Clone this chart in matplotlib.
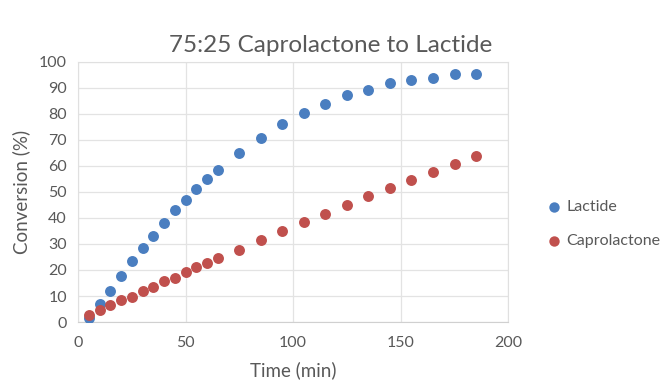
import matplotlib
matplotlib.use("Agg")
import matplotlib.pyplot as plt

plt.rcParams['font.family'] = ['Lato', 'DejaVu Sans']

time_min = [5, 10, 15, 20, 25, 30, 35, 40, 45, 50, 55, 60, 65, 75, 85, 95,
            105, 115, 125, 135, 145, 155, 165, 175, 185]
lactide = [1.5, 7.0, 12.0, 17.8, 23.5, 28.5, 33.2, 38.2, 43.2, 47.0, 51.0, 55.0,
           58.5, 64.8, 70.7, 76.0, 80.5, 83.7, 87.2, 89.0, 92.0, 93.0, 93.7, 95.5, 95.2]
caprolactone = [2.8, 4.7, 6.4, 8.3, 9.6, 12.0, 13.6, 15.6, 17.1, 19.4, 21.0, 22.8,
                24.6, 27.8, 31.4, 34.8, 38.4, 41.7, 45.0, 48.3, 51.5, 54.6, 57.8, 60.8, 64.0]

title = "75:25 Caprolactone to Lactide"
xlabel = "Time (min)"
ylabel = "Conversion (%)"
series_names = ["Lactide", "Caprolactone"]
colors = ["#4A7EC0", "#C0504D"]
text_gray = "#595959"

fig = plt.figure(figsize=(6.61, 3.82), dpi=100)
ax = fig.add_axes([0.118, 0.157, 0.651, 0.681])

ax.scatter(time_min, lactide, s=62, color=colors[0], label=series_names[0], zorder=3, linewidths=0)
ax.scatter(time_min, caprolactone, s=62, color=colors[1], label=series_names[1], zorder=3, linewidths=0)

ax.set_xlim(0, 200)
ax.set_ylim(0, 100)
ax.set_xticks(range(0, 201, 50))
ax.set_yticks(range(0, 101, 10))
ax.grid(True, color="#E3E3E3", linewidth=0.9)
ax.set_axisbelow(True)
for side in ["top", "right", "left", "bottom"]:
    ax.spines[side].set_color("#E0E0E0")
ax.spines["bottom"].set_color("#D0D0D0")
ax.tick_params(length=0, colors=text_gray, labelsize=11.5)
ax.tick_params(axis="x", pad=10)
ax.tick_params(axis="y", pad=8)

ax.set_xlabel(xlabel, fontsize=13.5, color=text_gray, labelpad=8)
ax.set_ylabel(ylabel, fontsize=13.5, color=text_gray, labelpad=6)
fig.text(0.5, 0.88, title, ha="center", va="center", fontsize=17.5, color=text_gray)

leg = ax.legend(loc="center left", bbox_to_anchor=(1.035, 0.377), frameon=False,
                fontsize=11.5, handletextpad=-0.2, labelspacing=1.2, markerscale=0.95)
for t in leg.get_texts():
    t.set_color(text_gray)

fig.savefig("out.png", dpi=100)
